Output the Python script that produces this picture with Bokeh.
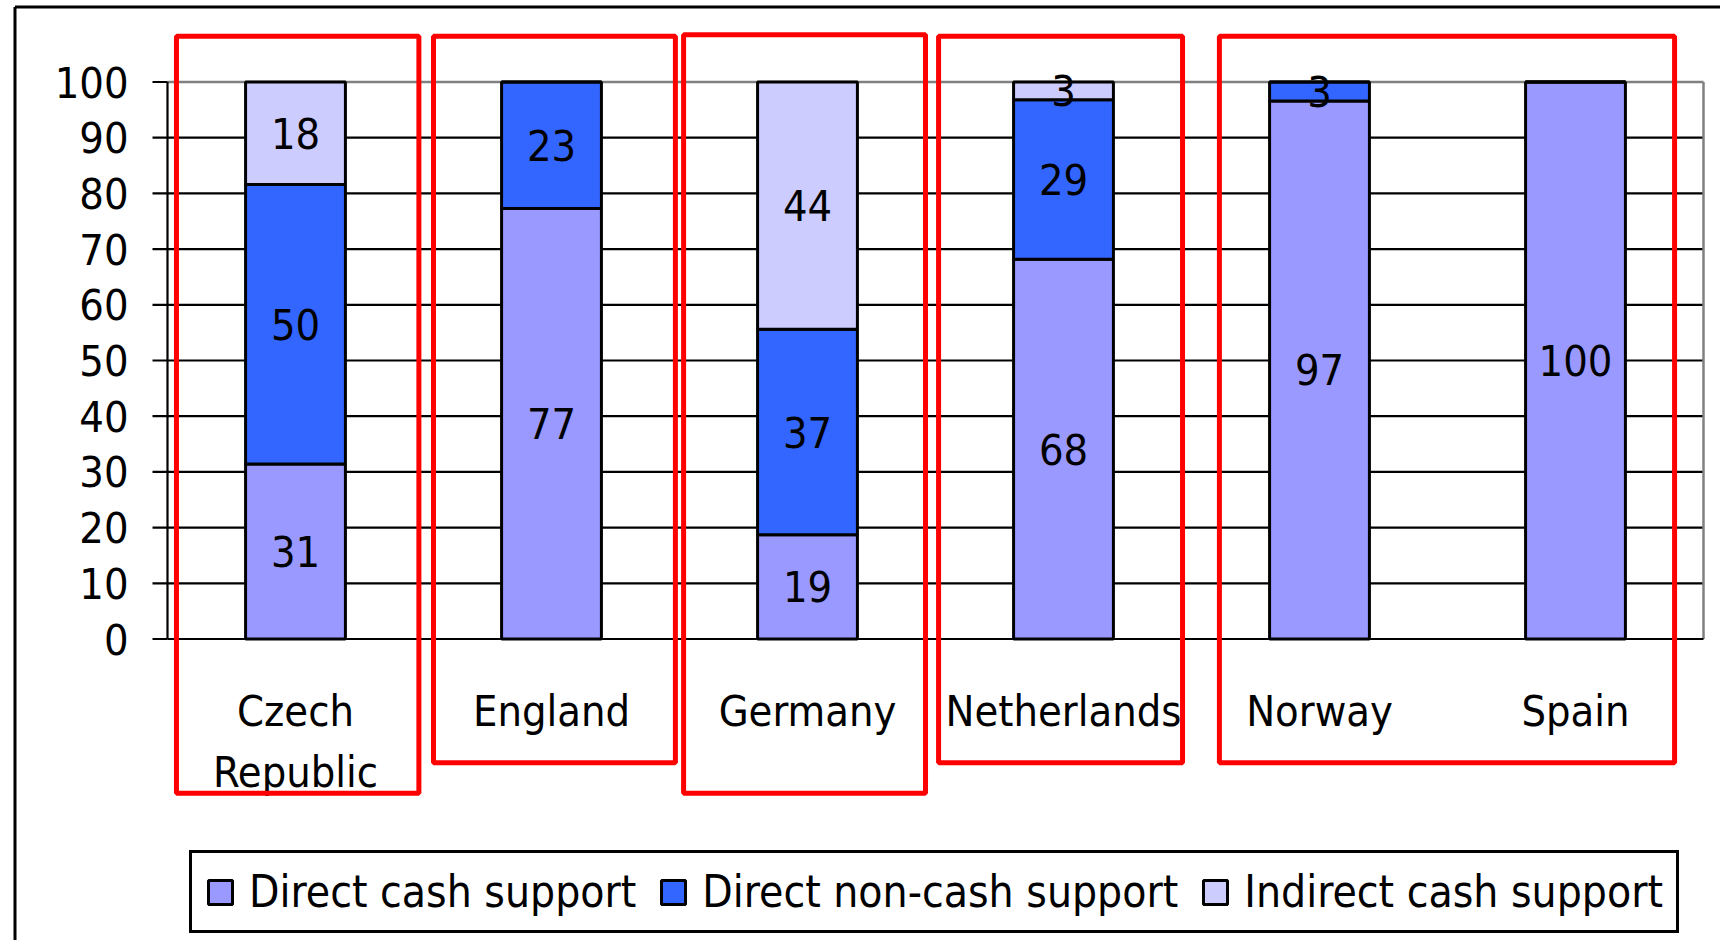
from bokeh.plotting import figure
from bokeh.models import Range1d, Legend, LegendItem, ColumnDataSource
from bokeh.core.properties import value
from bokeh.embed import file_html
from bokeh.resources import INLINE

# ---------------- data ----------------
countries = ["Czech Republic", "England", "Germany", "Netherlands", "Norway", "Spain"]
x_labels = ["Czech\nRepublic", "England", "Germany", "Netherlands", "Norway", "Spain"]
series = ["Direct cash support", "Direct non-cash support", "Indirect cash support"]
direct_cash = [31.4, 77.3, 18.7, 68.2, 96.6, 100.0]
direct_noncash = [50.2, 22.7, 36.9, 28.6, 3.4, 0.0]
indirect_cash = [18.4, 0.0, 44.4, 3.2, 0.0, 0.0]
y_ticks = [0, 10, 20, 30, 40, 50, 60, 70, 80, 90, 100]
grid_ticks = [10, 20, 30, 40, 50, 60, 70, 80, 90]

# ---------------- styles / layout ----------------
colors = ["#9999FF", "#3366FF", "#CCCCFF"]
FONT = "DejaVu Sans Condensed"
W, H = 1720, 940
PX_X = 256.0          # pixels per category slot
PX_Y = 5.57           # pixels per value unit
X0_PAGE = 167.0       # page x of the value axis
Y100_PAGE = 81.5      # page y of value 100

n = len(countries)
x_range = Range1d(-X0_PAGE / PX_X, (W - X0_PAGE) / PX_X)
y_range = Range1d(100 - (H - Y100_PAGE) / PX_Y, 100 + Y100_PAGE / PX_Y)

# red highlight frames (category units, value units)
hl_left = [0.035, 1.039, 2.016, 3.012, 4.109]
hl_right = [0.982, 1.984, 2.961, 3.965, 5.887]
hl_top = [108.2, 108.2, 108.5, 108.2, 108.2]
hl_bottom = [-27.7, -22.2, -27.7, -22.2, -22.2]
label_row_y = -8.35
tick_len = 15 / PX_X
tick_label_x = -(15 + 24) / PX_X
border_x = (14.5 - X0_PAGE) / PX_X
border_y = 100 + (Y100_PAGE - 6.5) / PX_Y

p = figure(x_range=x_range, y_range=y_range, width=W, height=H,
           output_backend="svg", toolbar_location=None, title=None,
           x_axis_location=None, y_axis_location=None,
           min_border_left=0, min_border_right=0, min_border_top=0,
           min_border_bottom=0, outline_line_color=None,
           background_fill_color="white", border_fill_color="white")
p.grid.visible = False

xs = [i + 0.5 for i in range(n)]

# outer chart border
p.segment(x0=[border_x, border_x], y0=[border_y, border_y],
          x1=[border_x, x_range.end + 1], y1=[y_range.start - 10, border_y],
          line_color="black", line_width=3)

# grid, plot-area border, axes
p.segment(x0=[0] * len(grid_ticks), x1=[n] * len(grid_ticks), y0=grid_ticks,
          y1=grid_ticks, line_color="black", line_width=2.2)
p.segment(x0=[0, n], x1=[n, n], y0=[100, 0], y1=[100, 100],
          line_color="#808080", line_width=2.5)
p.segment(x0=[0, 0], x1=[n, 0], y0=[0, 0], y1=[0, 100],
          line_color="black", line_width=2.2)
p.segment(x0=[-tick_len] * len(y_ticks), x1=[0] * len(y_ticks), y0=y_ticks,
          y1=y_ticks, line_color="black", line_width=2.2)
p.text(x=[tick_label_x] * len(y_ticks), y=y_ticks, text=[str(t) for t in y_ticks],
       text_font=value(FONT), text_font_size="43px", text_align="right",
       text_baseline="middle", text_color="black")

# stacked bars
src = ColumnDataSource(data={"x": xs, series[0]: direct_cash,
                             series[1]: direct_noncash, series[2]: indirect_cash})
renderers = p.vbar_stack(series, x="x", width=0.39, source=src,
                         fill_color=colors, line_color="black", line_width=3)

# value labels
lx, ly, lt = [], [], []
for i in range(n):
    bottom = 0.0
    for vals in (direct_cash, direct_noncash, indirect_cash):
        v = vals[i]
        if v > 0:
            lx.append(xs[i])
            ly.append(bottom + v / 2)
            lt.append(f"{v:.0f}")
        bottom += v
p.text(x=lx, y=ly, text=lt, text_font=value(FONT), text_font_size="43px",
       text_align="center", text_baseline="middle", text_color="black")

# category labels
p.text(x=xs, y=[label_row_y] * n, text=x_labels,
       text_font=value(FONT), text_font_size="43px", text_align="center",
       text_baseline="top", text_line_height=1.22, text_color="black")

# red highlight frames
p.quad(left=hl_left, right=hl_right, top=hl_top, bottom=hl_bottom,
       fill_alpha=0, line_color="#FF0000", line_width=5)

items = [LegendItem(label=s, renderers=[r]) for s, r in zip(series, renderers)]
legend = Legend(items=items, orientation="horizontal", location=(189, 7),
                label_text_font=FONT, label_text_font_size="44px",
                label_text_color="black",
                glyph_width=30, glyph_height=30, label_standoff=14, spacing=22,
                padding=13, margin=0, border_line_color="black",
                border_line_alpha=1.0, border_line_width=3,
                background_fill_color="white", background_fill_alpha=1)
p.add_layout(legend)

open("out.html", "w").write(file_html(p, INLINE))
